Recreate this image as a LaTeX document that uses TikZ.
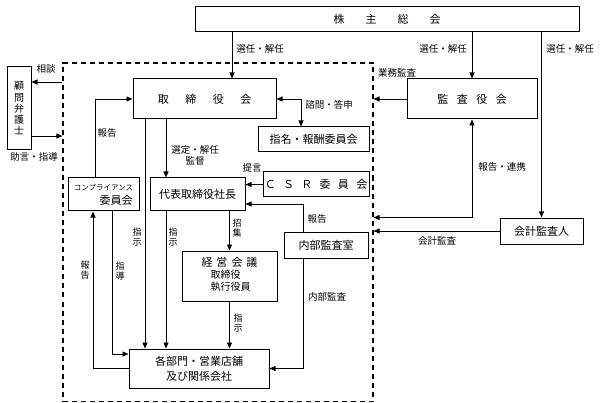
\documentclass[tikz,border=0pt]{standalone}
\usepackage{fontspec}
\setmainfont{Noto Sans CJK JP}
\usetikzlibrary{arrows.meta}

\begin{document}
\begin{tikzpicture}[x=1pt,y=-1pt,
  box/.style={draw, line width=1pt, inner sep=0pt, font=\fontsize{11}{13}\selectfont},
  group/.style={draw, line width=1.1pt, dash pattern=on 5pt off 4pt, inner sep=0pt},
  lbl/.style={inner sep=0pt, font=\fontsize{9.5}{11}\selectfont},
  vlbl/.style={inner sep=0pt, align=center, font=\fontsize{9}{9.5}\selectfont},
  conn/.style={line width=0.8pt},
  >={Triangle[length=6pt,width=5pt]}]
\useasboundingbox (0,0) rectangle (604,403);
\node[group, minimum width=310pt, minimum height=338.5pt] (grp) at (218,232.25) {};
\node[box, minimum width=384pt, minimum height=25pt] (gm) at (387,19.5) {株\hspace{21pt}主\hspace{21pt}総\hspace{21pt}会};
\node[box, minimum width=143pt, minimum height=40pt] (bod) at (204.5,99) {取\hspace{16.5pt}締\hspace{16.5pt}役\hspace{16.5pt}会};
\node[box, minimum width=130pt, minimum height=40pt] (aud) at (472,99) {監\hspace{8.5pt}査\hspace{8.5pt}役\hspace{8.5pt}会};
\node[box, minimum width=83pt, minimum height=26pt] (acct) at (541.5,231) {会計監査人};
\node[box, minimum width=111pt, minimum height=25pt] (nom) at (313.5,139.5) {指名・報酬委員会};
\node[box, minimum width=106pt, minimum height=25pt] (csr) at (316,184.5) {Ｃ\hspace{7.3pt}Ｓ\hspace{7.3pt}Ｒ\hspace{7.3pt}委\hspace{7.3pt}員\hspace{7.3pt}会};
\node[box, minimum width=95pt, minimum height=33pt] (pres) at (197.5,194.5) {代表取締役社長};
\node[box, align=center, minimum width=71pt, minimum height=33pt] (comp) at (103.5,194.5) {{\fontsize{7.5}{9}\selectfont コンプライアンス}\\[1pt]\hspace*{25pt}委員会};
\node[box, minimum width=84pt, minimum height=26pt] (ia) at (326,245) {内部監査室};
\node[box, minimum width=95pt, minimum height=50pt] (mgmt) at (229.5,276) {\begin{tabular}{@{}l@{}}\multicolumn{1}{@{}c@{}}{経\hspace{4pt}営\hspace{4pt}会\hspace{4pt}議}\\[-1pt] \hspace*{9pt}{\fontsize{10}{12}\selectfont 取締役}\\[-1pt] \hspace*{9pt}{\fontsize{10}{12}\selectfont 執行役員}\end{tabular}};
\node[box, align=center, minimum width=140pt, minimum height=39pt] (dept) at (199,368.5) {各部門・営業店舗\\[2pt]及び関係会社};
\node[box, align=center, minimum width=24pt, minimum height=83pt, font=\fontsize{10}{11.25}\selectfont] (law) at (19,108.5) {顧\\問\\弁\\護\\士};

% connectors
\draw[conn,->] ([xshift=27.5pt]bod.north |- gm.south) -- ([xshift=27.5pt]bod.north);
\draw[conn,->] (gm.south -| aud.north) -- (aud.north);
\draw[conn,->] (gm.south -| acct.north) -- (acct.north);
\draw[conn,->] (aud.west) -- (aud.west -| grp.east);
\draw[conn,<->] (aud.south) |- (acct.north -| grp.east);
\draw[conn,->] (acct.west) -- (acct.west -| grp.east);
\draw[conn,<->] (bod.east) -| ([xshift=-12.5pt]nom.north);
\draw[conn,->] ([xshift=-38.5pt]bod.south) -- ([xshift=-38.5pt]bod.south |- pres.north);
\draw[conn,->] ([xshift=-59.5pt]bod.south) -- ([xshift=-59.5pt]bod.south |- dept.north);
\draw[conn,->] ([xshift=-31.5pt]pres.south) -- ([xshift=-31.5pt]pres.south |- dept.north);
\draw[conn,->] (mgmt.north |- pres.south) -- (mgmt.north);
\draw[conn,->] (mgmt.south) -- (mgmt.south |- dept.north);
\draw[conn,->] (csr.west) -- (csr.west -| pres.east);
\draw[conn,->] ([xshift=-23pt]ia.north) |- ([yshift=-9.5pt]pres.east);
\draw[conn,->] ([xshift=-23pt]ia.south) |- (dept.east);
\draw[conn,->] ([xshift=-8.5pt]comp.north) |- (bod.west);
\draw[conn,->] ([xshift=8.5pt]comp.south) |- ([yshift=14.5pt]dept.west);
\draw[conn,->] (dept.west) -| ([xshift=-10.5pt]comp.south);
\draw[conn,->] ([yshift=26.5pt]law.east -| grp.west) -- ([yshift=26.5pt]law.east);
\draw[conn,->] ([yshift=-27.5pt]law.east) -- ([yshift=-27.5pt]law.east -| grp.west);

% labels
\node[lbl] (t1) at (260,49) {選任・解任};
\node[lbl] (t2) at (443,49) {選任・解任};
\node[lbl] (t3) at (570,49) {選任・解任};
\node[lbl] (t4) at (397,73) {業務監査};
\node[lbl] (t5) at (502,167) {報告・連携};
\node[lbl] (t6) at (437,241) {会計監査};
\node[lbl] (t7) at (329,105) {諮問・答申};
\node[lbl, align=center] (t8) at (195,155) {選定・解任\\監督};
\node[lbl] (t9) at (252,168) {提言};
\node[lbl] (t10) at (317,219) {報告};
\node[lbl] (t11) at (327,297) {内部監査};
\node[lbl] (t12) at (107,133) {報告};
\node[lbl] (t13) at (46,69) {相談};
\node[lbl] (t14) at (34,157) {助言・指導};
\node[vlbl] (t15) at (237,228) {招\\集};
\node[vlbl] (t16) at (238,323) {指\\示};
\node[vlbl] (t17) at (137,237) {指\\示};
\node[vlbl] (t18) at (173,237) {指\\示};
\node[vlbl] (t19) at (85,270) {報\\告};
\node[vlbl] (t20) at (120,271) {指\\導};
\end{tikzpicture}
\end{document}
